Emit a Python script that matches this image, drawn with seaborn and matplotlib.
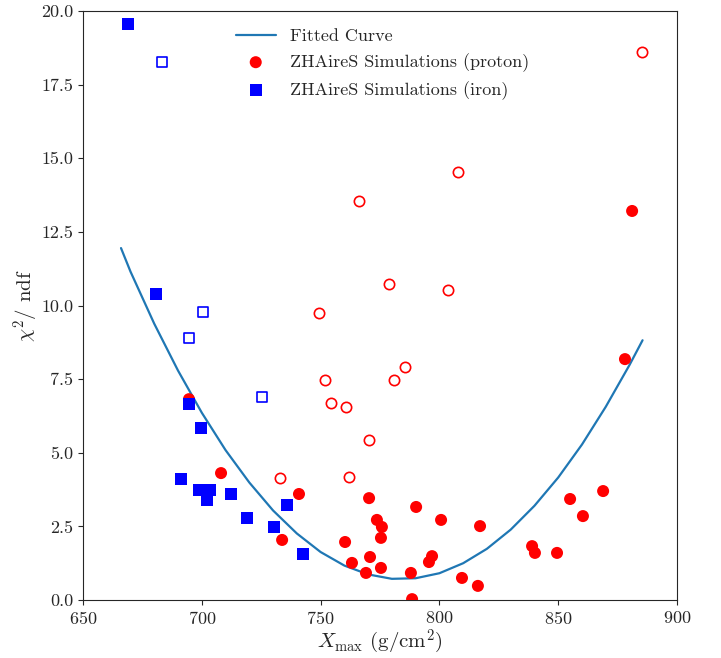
import matplotlib
matplotlib.use("Agg")
import matplotlib.pyplot as plt
import seaborn as sns
import pandas as pd
import numpy as np

# ZHAireS proton (filled = used in fit, open = rejected)
proton_x = [694.6, 708.1, 733.8, 740.9, 760.3, 763.2, 769.1, 770.4, 770.8, 773.7,
            775.4, 775.4, 775.8, 788.0, 788.5, 790.2, 795.6, 796.9, 800.7, 809.5,
            816.2, 817.1, 839.0, 840.2, 849.5, 855.0, 860.4, 868.9, 878.1, 881.1]
proton_y = [6.82, 4.31, 2.04, 3.60, 1.97, 1.26, 0.92, 3.46, 1.46, 2.72,
            2.11, 1.09, 2.48, 0.92, 0.03, 3.16, 1.29, 1.49, 2.72, 0.75,
            0.48, 2.51, 1.83, 1.60, 1.60, 3.43, 2.85, 3.70, 8.18, 13.21]
proton_open_x = [732.9, 749.3, 751.9, 754.4, 760.7, 762.0, 766.2, 770.4, 778.8, 780.9,
                 785.5, 803.6, 807.8, 885.3]
proton_open_y = [4.14, 9.75, 7.47, 6.69, 6.55, 4.18, 13.55, 5.43, 10.73, 7.47,
                 7.91, 10.53, 14.53, 18.60]

# ZHAireS iron
iron_x = [668.9, 680.7, 691.2, 694.6, 698.8, 699.7, 702.2, 703.4, 712.3, 719.0,
          730.4, 735.9, 742.6]
iron_y = [19.56, 10.39, 4.11, 6.66, 3.74, 5.84, 3.40, 3.74, 3.60, 2.78,
          2.48, 3.23, 1.56]
iron_open_x = [683.2, 694.6, 700.5, 725.3]
iron_open_y = [18.27, 8.90, 9.78, 6.89]

# fitted curve
fit_x = [666, 670, 680, 690, 700, 710, 720, 730, 740, 750, 760, 770,
         780, 790, 800, 810, 820, 830, 840, 850, 860, 870, 880, 885.5]
fit_y = [11.95, 11.15, 9.38, 7.79, 6.36, 5.09, 3.99, 3.04, 2.26, 1.63, 1.17, 0.87,
         0.72, 0.74, 0.91, 1.25, 1.74, 2.39, 3.20, 4.16, 5.28, 6.56, 7.98, 8.82]

sns.set_style("ticks")
plt.rcParams["font.family"] = "serif"
plt.rcParams["font.serif"] = ["cmr10", "DejaVu Serif"]
plt.rcParams["mathtext.fontset"] = "cm"
plt.rcParams["axes.formatter.use_mathtext"] = True

fig = plt.figure(figsize=(7.21, 6.58), dpi=100)
ax = fig.add_axes([0.1151, 0.0881, 0.8239, 0.8952])

sns.lineplot(x=fit_x, y=fit_y, ax=ax, color="#1f77b4", linewidth=1.6,
             sort=False, label="Fitted Curve", zorder=2)

# protons
sns.scatterplot(x=proton_x, y=proton_y, ax=ax, marker="o", color="red",
                s=75, edgecolor="none", label="ZHAireS Simulations (proton)", zorder=3)
sns.scatterplot(x=proton_open_x, y=proton_open_y, ax=ax, marker="o", color="white",
                s=55, edgecolor="red", linewidth=1.2, zorder=3)

# iron
sns.scatterplot(x=iron_x, y=iron_y, ax=ax, marker="s", color="blue",
                s=75, edgecolor="none", label="ZHAireS Simulations (iron)", zorder=4)
sns.scatterplot(x=iron_open_x, y=iron_open_y, ax=ax, marker="s", color="white",
                s=60, edgecolor="blue", linewidth=1.2, zorder=4)

ax.set_xlim(650, 900)
ax.set_ylim(0, 20)
ax.set_xticks(np.arange(650, 901, 50))
ax.set_yticks(np.arange(0, 20.1, 2.5))
ax.set_yticklabels([f"{v:.1f}" for v in np.arange(0, 20.1, 2.5)])
ax.tick_params(labelsize=13)
for s in ax.spines.values():
    s.set_visible(True)

ax.set_xlabel(r"$X_{\rm max}$ (g/cm$^2$)", fontsize=15, labelpad=1)
ax.set_ylabel(r"$\chi^2/$ ndf", fontsize=15, labelpad=0)

ax.legend(loc="upper left", bbox_to_anchor=(0.23, 0.998), frameon=False,
          fontsize=13, handlelength=2.2)

plt.savefig("out.png", dpi=100)
